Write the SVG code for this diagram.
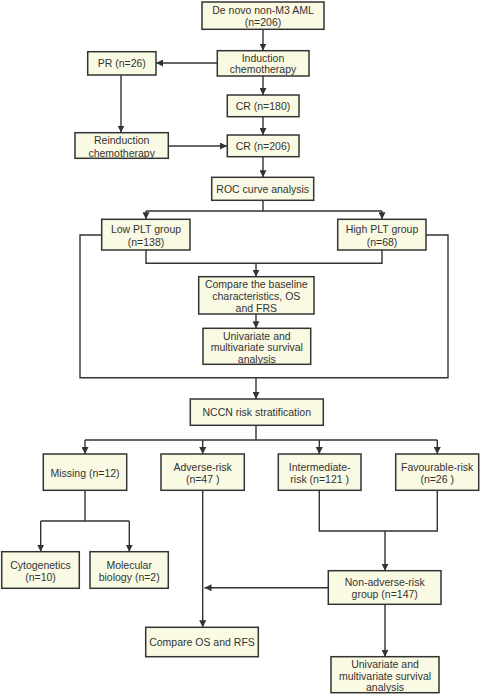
<svg xmlns="http://www.w3.org/2000/svg" width="480" height="694" viewBox="0 0 480 694">
<defs>
<marker id="ah" viewBox="0 0 10 10" refX="10" refY="5" markerWidth="7" markerHeight="7" orient="auto" markerUnits="userSpaceOnUse">
<path d="M0,0 L10,5 L0,10 z" fill="#333"/>
</marker>
<style>
.box{fill:#FAFAE4;stroke:#333;stroke-width:1.5}
.t{font-family:"Liberation Sans",Arial,sans-serif;font-size:10.5px;fill:#333;text-anchor:middle;dominant-baseline:central}
.c{fill:none;stroke:#333;stroke-width:1.4}
.a{fill:none;stroke:#333;stroke-width:1.4;marker-end:url(#ah)}
</style>
</defs>
<rect width="480" height="694" fill="#fff"/>
<g id="connectors">
<path class="a" d="M263,29 V50.5"/>
<path class="a" d="M217,63 H156"/>
<path class="a" d="M263,76 V95"/>
<path class="a" d="M121,75 V132.5"/>
<path class="a" d="M263,116.7 V135"/>
<path class="a" d="M168,146 H227"/>
<path class="a" d="M263,157 V177.3"/>
<path class="c" d="M263,200 V211 M146,211 H382"/>
<path class="a" d="M146,211 V219.3"/>
<path class="a" d="M382,211 V219.3"/>
<path class="c" d="M146,250 V263.3 H382 V250"/>
<path class="a" d="M256,263.3 V276.7"/>
<path class="a" d="M256,314 V328.3"/>
<path class="c" d="M101.7,235 H80 V377.7 H448 V235 H426"/>
<path class="a" d="M256,377.7 V399"/>
<path class="c" d="M256,425.3 V440 M85,440 H437.3"/>
<path class="a" d="M85,440 V454"/>
<path class="a" d="M202.7,440 V454"/>
<path class="a" d="M319.3,440 V454"/>
<path class="a" d="M437.3,440 V454"/>
<path class="c" d="M85,490.3 V521 M40.7,521 H129.3"/>
<path class="a" d="M40.7,521 V551.7"/>
<path class="a" d="M129.3,521 V551.7"/>
<path class="a" d="M202.7,490.3 V627.3"/>
<path class="c" d="M319.3,490.3 V531 H437.3 V490.3"/>
<path class="a" d="M385,531 V570.7"/>
<path class="a" d="M328.3,587.7 H204.5"/>
<path class="a" d="M385,604.3 V656.7"/>
</g>
<g id="n_denovo"><rect class="box" x="202" y="2" width="122" height="27.3"/><text class="t" x="263" y="10">De novo non-M3 AML</text><text class="t" x="263" y="21.7">(n=206)</text></g>
<g id="n_induction"><rect class="box" x="217.3" y="50.7" width="91.7" height="25.3"/><text class="t" x="263" y="57.7">Induction</text><text class="t" x="263" y="69.3">chemotherapy</text></g>
<g id="n_pr"><rect class="box" x="87.7" y="51.7" width="68.3" height="23.3"/><text class="t" x="121.8" y="63.3">PR (n=26)</text></g>
<g id="n_cr180"><rect class="box" x="227.3" y="95" width="71.7" height="21.7"/><text class="t" x="263" y="106">CR (n=180)</text></g>
<g id="n_reinduction"><rect class="box" x="75" y="132.7" width="93.3" height="25.6"/><text class="t" x="121.7" y="140">Reinduction</text><text class="t" x="121.7" y="152.7">chemotherapy</text></g>
<g id="n_cr206"><rect class="box" x="227.3" y="135" width="71.7" height="21.7"/><text class="t" x="263" y="145.7">CR (n=206)</text></g>
<g id="n_roc"><rect class="box" x="211.7" y="177.3" width="102" height="23"/><text class="t" x="262.7" y="189">ROC curve analysis</text></g>
<g id="n_low"><rect class="box" x="101.7" y="219.3" width="88.3" height="30.7"/><text class="t" x="146" y="229.3">Low PLT group</text><text class="t" x="146" y="241.7">(n=138)</text></g>
<g id="n_high"><rect class="box" x="337.7" y="219.3" width="88.3" height="30.7"/><text class="t" x="382" y="229.3">High PLT group</text><text class="t" x="382" y="241.7">(n=68)</text></g>
<g id="n_compare"><rect class="box" x="198.7" y="276.7" width="115.3" height="37.3"/><text class="t" x="256.3" y="284.3">Compare the baseline</text><text class="t" x="256.3" y="296.3">characteristics, OS</text><text class="t" x="256.3" y="307.7">and FRS</text></g>
<g id="n_univ1"><rect class="box" x="203" y="328.3" width="107.7" height="36"/><text class="t" x="256.8" y="335.5">Univariate and</text><text class="t" x="256.8" y="347">multivariate survival</text><text class="t" x="256.8" y="358.5">analysis</text></g>
<g id="n_nccn"><rect class="box" x="190.3" y="399" width="133" height="26.3"/><text class="t" x="256.8" y="412.3">NCCN risk stratification</text></g>
<g id="n_missing"><rect class="box" x="43.3" y="454" width="83.4" height="36.3"/><text class="t" x="85" y="473.3">Missing (n=12)</text></g>
<g id="n_adverse"><rect class="box" x="161" y="454" width="83.3" height="36.3"/><text class="t" x="202.7" y="466.7">Adverse-risk</text><text class="t" x="202.7" y="479.3">(n=47 )</text></g>
<g id="n_intermediate"><rect class="box" x="278.3" y="454" width="82.7" height="36.3"/><text class="t" x="319.7" y="466.7">Intermediate-</text><text class="t" x="319.7" y="479.3">risk (n=121 )</text></g>
<g id="n_favourable"><rect class="box" x="395.7" y="454" width="83" height="36.3"/><text class="t" x="437.2" y="466.7">Favourable-risk</text><text class="t" x="437.2" y="479.3">(n=26 )</text></g>
<g id="n_cyto"><rect class="box" x="1.7" y="551.7" width="77.6" height="36.6"/><text class="t" x="40.5" y="565">Cytogenetics</text><text class="t" x="40.5" y="576.7">(n=10)</text></g>
<g id="n_molecular"><rect class="box" x="90" y="551.7" width="78.3" height="36.6"/><text class="t" x="129.2" y="565">Molecular</text><text class="t" x="129.2" y="576.7">biology (n=2)</text></g>
<g id="n_nonadverse"><rect class="box" x="328.3" y="570.7" width="112.7" height="33.6"/><text class="t" x="384.7" y="582.3">Non-adverse-risk</text><text class="t" x="384.7" y="594">group (n=147)</text></g>
<g id="n_compareos"><rect class="box" x="145.7" y="627.3" width="112.6" height="29.4"/><text class="t" x="202" y="642.3">Compare OS and RFS</text></g>
<g id="n_univ2"><rect class="box" x="331" y="656.7" width="108" height="36"/><text class="t" x="385" y="663.5">Univariate and</text><text class="t" x="385" y="675.5">multivariate survival</text><text class="t" x="385" y="686.7">analysis</text></g>
</svg>
